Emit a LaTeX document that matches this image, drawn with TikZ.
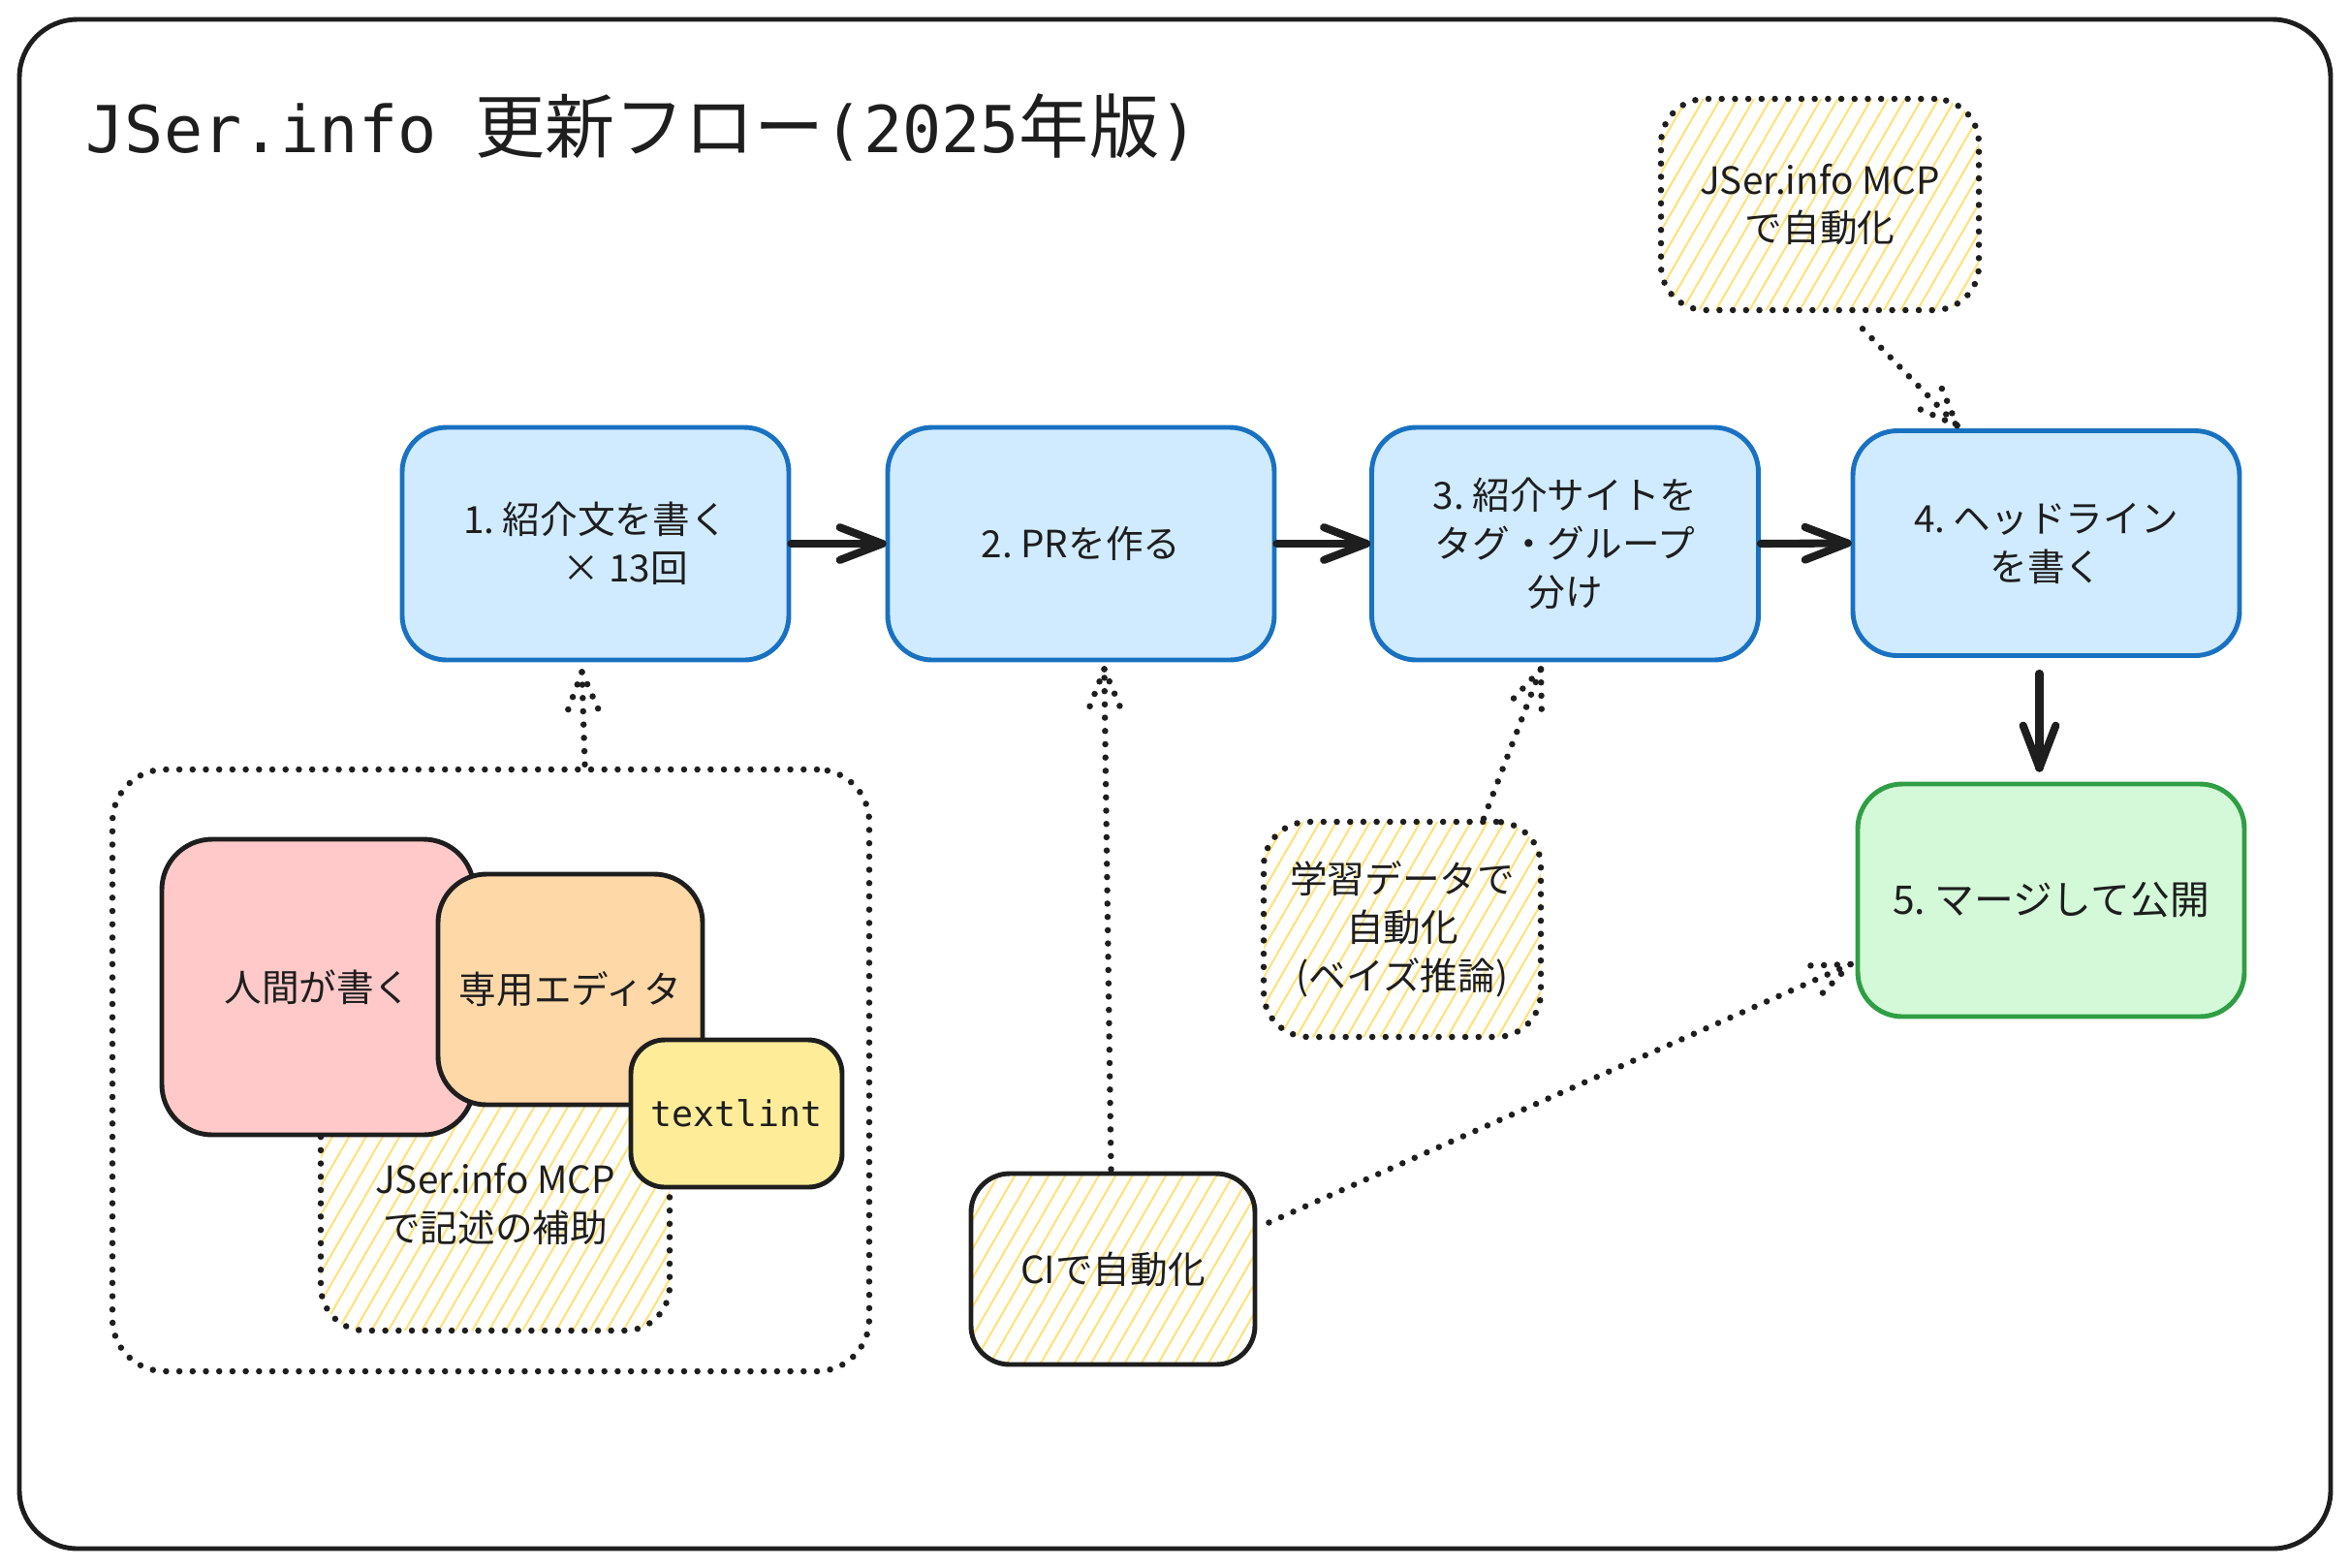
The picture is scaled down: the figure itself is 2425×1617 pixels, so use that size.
\documentclass[tikz,border=0pt]{standalone}
\usepackage{fontspec}
\setmainfont{Noto Sans CJK JP}
\newfontfamily\monofont{DejaVu Sans Mono}
\usetikzlibrary{calc,patterns.meta}
\definecolor{bluefill}{HTML}{D0EBFF}
\definecolor{bluestroke}{HTML}{1971C2}
\definecolor{greenfill}{HTML}{D3F9D8}
\definecolor{greenstroke}{HTML}{2F9E44}
\definecolor{pinkfill}{HTML}{FFC9C9}
\definecolor{orangefill}{HTML}{FFD8A8}
\definecolor{yellowfill}{HTML}{FFEC99}
\definecolor{hatchcol}{HTML}{FFE27A}
\definecolor{ink}{HTML}{1E1E1E}
\tikzset{
  txt/.style={font=\fontsize{11}{14.2}\selectfont, text=ink},
  stepbox/.style={txt, draw=bluestroke, fill=bluefill, line width=1.4pt, rounded corners=4.6mm,
    minimum width=39.9mm, minimum height=24mm, align=center, inner sep=0pt},
  donebox/.style={stepbox, draw=greenstroke, fill=greenfill},
  toolbox/.style={txt, draw=ink, line width=1.4pt, align=center, inner sep=0pt},
  hatched/.style={preaction={solid, pattern={Lines[angle=60,distance=1.5mm,line width=0.6pt]}, pattern color=hatchcol}},
  dotline/.style={draw=ink, line width=1.85pt, line cap=round, dash pattern=on 0pt off 3.9pt},
  notebox/.style={txt, hatched, dotline, rounded corners=4.6mm, align=center, inner sep=0pt},
  solidline/.style={draw=ink, line width=2.3pt, line cap=round, line join=round},
}
\newcommand\dotarrow[2]{%
  \draw[dotline] (#1) -- (#2);
  \draw[dotline] (#2) -- ($(#2)!4.6mm!22:(#1)$);
  \draw[dotline] (#2) -- ($(#2)!4.6mm!-22:(#1)$);}
\newcommand\solidarrow[2]{%
  \draw[solidline] (#1) -- (#2);
  \draw[solidline] ($(#2)!4.7mm!21:(#1)$) -- (#2) -- ($(#2)!4.7mm!-21:(#1)$);}
\begin{document}
\begin{tikzpicture}[x=0.1mm,y=-0.1mm]
\useasboundingbox (0,0) rectangle (2425,1617);
\node[draw=ink, line width=1.4pt, rounded corners=6mm, minimum width=238.5mm, minimum height=157.8mm, inner sep=0pt] (frame) at (1212.5,809) {};
\node[anchor=west, font=\fontsize{20.5}{24}\selectfont, text=ink, inner sep=0pt] (title) at (88,131)
  {{\monofont\fontsize{19}{24}\selectfont JSer.info }更新フロー{\monofont\fontsize{19}{24}\selectfont (2025}年版{\monofont\fontsize{19}{24}\selectfont )}};
% main flow
\node[stepbox] (box1) at (614.5,561) {1.\ 紹介文を書く\\\hspace*{1.6em}× 13回};
\node[stepbox] (box2) at (1115.5,561) {2.\ PRを作る};
\node[stepbox] (box3) at (1615,561) {3.\ 紹介サイトを\\タグ・グループ\\分け};
\node[stepbox, minimum height=23.2mm] (box4) at (2111.5,560.5) {4.\ ヘッドライン\\を書く};
\node[donebox, font=\fontsize{11.6}{14}\selectfont] (box5) at (2116.5,929) {5.\ マージして公開};
% notes
\node[notebox, minimum width=32.8mm, minimum height=21.8mm] (note1) at (1878,211) {JSer.info MCP\\で自動化};
\node[notebox, minimum width=28.6mm, minimum height=22.2mm] (ml) at (1447,959) {学習データで\\自動化\\(ベイズ推論)};
\node[toolbox, hatched, rounded corners=4mm, minimum width=29.3mm, minimum height=19.7mm] (ci) at (1148.5,1309.5) {CIで自動化};
% group
\node[dotline, rounded corners=5.4mm, minimum width=78.1mm, minimum height=62.1mm, inner sep=0pt] (grp) at (506.5,1104.5) {};
\node[notebox, minimum width=36mm, minimum height=26.2mm] (helper) at (511,1242) {JSer.info MCP\\で記述の補助};
\node[toolbox, fill=pinkfill, rounded corners=5.2mm, minimum width=32.2mm, minimum height=30.5mm] (human) at (328,1018.5) {人間が書く};
\node[toolbox, fill=orangefill, rounded corners=5mm, minimum width=27.3mm, minimum height=23.8mm] (editor) at (588.5,1021) {専用エディタ};
\node[toolbox, fill=yellowfill, rounded corners=3.5mm, minimum width=21.8mm, minimum height=15.2mm, font=\fontsize{10.4}{12}\monofont] (lint) at (760,1149) {textlint};
% connector end points
\coordinate (a1e) at ($(box2.west)+(-3,0)$);
\coordinate (a2e) at ($(box3.west)+(-3,0)$);
\coordinate (a3e) at ($(box4.west)+(-3,0)$);
\coordinate (a4s) at ($(box4.south)+(-7,16)$);
\coordinate (a4e) at ($(box5.north)+(-12,-14)$);
\coordinate (a5s) at ($(note1.south)+(44,16)$);
\coordinate (a5e) at ($(box4.north)+(-92,-3)$);
\coordinate (a6s) at ($(grp.north)+(97,-2)$);
\coordinate (a6e) at ($(box1.south)+(-14,10)$);
\coordinate (a7s) at ($(ci.north)+(-2,-2)$);
\coordinate (a7e) at ($(box2.south)+(24,7)$);
\coordinate (a8s) at ($(ml.north)+(84,0)$);
\coordinate (a8e) at ($(box3.south)+(-25,7)$);
\coordinate (a9s) at ($(ci.east)+(12,-48)$);
\coordinate (a9e) at ($(box5.west)+(-5,66)$);
% connectors
\solidarrow{box1.east}{a1e}
\solidarrow{box2.east}{a2e}
\solidarrow{box3.east}{a3e}
\solidarrow{a4s}{a4e}
\dotarrow{a5s}{a5e}
\dotarrow{a6s}{a6e}
\dotarrow{a7s}{a7e}
\dotarrow{a8s}{a8e}
\dotarrow{a9s}{a9e}
\end{tikzpicture}
\end{document}
